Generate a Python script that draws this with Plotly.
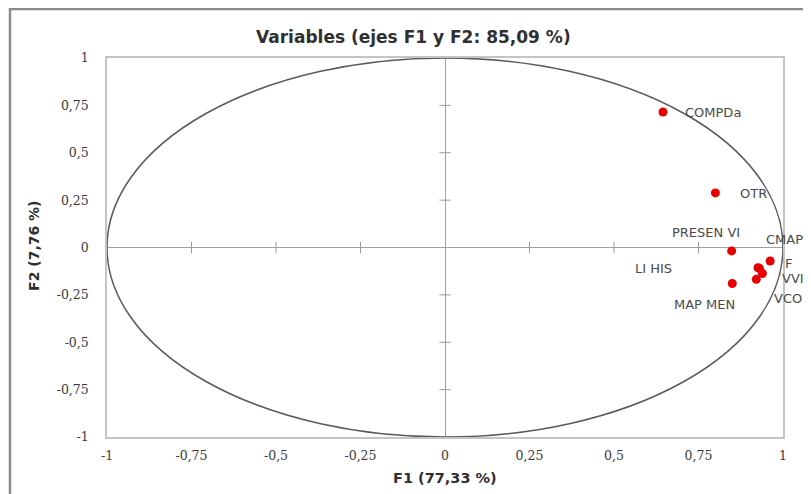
import plotly.graph_objects as go

# ---- data ----
variables = ["COMPDa", "OTR", "PRESEN VI", "CMAP", "LI HIS", "F", "VVI", "VCON", "MAP MEN"]
f1_values = [0.645, 0.800, 0.848, 0.962, 0.926, 0.930, 0.939, 0.921, 0.850]
f2_values = [0.715, 0.288, -0.018, -0.071, -0.107, -0.110, -0.137, -0.168, -0.190]

# where each label sits (data units, left edge of text)
label_f1 = [0.704, 0.867, 0.666, 0.944, 0.556, 1.000, 0.990, 0.967, 0.672]
label_f2 = [0.710, 0.283, 0.077, 0.040, -0.113, -0.087, -0.166, -0.270, -0.303]

tick_values = [-1, -0.75, -0.5, -0.25, 0, 0.25, 0.5, 0.75, 1]
tick_labels = ["-1", "-0,75", "-0,5", "-0,25", "0", "0,25", "0,5", "0,75", "1"]

title_text = "Variables (ejes F1 y F2: 85,09 %)"
x_title = "F1 (77,33 %)"
y_title = "F2 (7,76 %)"

fig = go.Figure()

# tick crosses on the zero axes
cross_vals = [v for v in tick_values if v != 0]
fig.add_trace(go.Scatter(
    x=cross_vals, y=[0] * len(cross_vals), mode="markers",
    marker=dict(symbol="line-ns", size=8, line=dict(width=1, color="#9a9a9a")),
    hoverinfo="skip", showlegend=False, cliponaxis=False))
fig.add_trace(go.Scatter(
    x=[0] * len(cross_vals), y=cross_vals, mode="markers",
    marker=dict(symbol="line-ew", size=8, line=dict(width=1, color="#9a9a9a")),
    hoverinfo="skip", showlegend=False, cliponaxis=False))

# variable points
fig.add_trace(go.Scatter(
    x=f1_values, y=f2_values, mode="markers", text=variables,
    marker=dict(color="rgb(232,0,0)", size=9, line=dict(width=0)),
    showlegend=False))

# correlation circle
fig.add_shape(type="circle", xref="x", yref="y", x0=-1, x1=1, y0=-1, y1=1,
              line=dict(color="#5a5a5a", width=1.5), layer="above")

# outer chart border (extends past the picture on right/bottom)
fig.add_shape(type="rect", xref="paper", yref="paper",
              x0=-0.1435, x1=1.08, y0=-0.18, y1=1.129,
              line=dict(color="#8a8a8a", width=2.5), layer="below")

annotations = []
for name, lx, ly in zip(variables, label_f1, label_f2):
    annotations.append(dict(
        x=lx, y=ly, xref="x", yref="y", text=name, showarrow=False,
        xanchor="left", yanchor="middle",
        font=dict(family="DejaVu Sans", size=13, color="#4a4a4a")))

annotations.append(dict(
    x=0.454, y=1.055, xref="paper", yref="paper", text=title_text,
    showarrow=False, xanchor="center", yanchor="middle",
    font=dict(family="DejaVu Sans", size=17, color="#303030", weight="bold")))
annotations.append(dict(
    x=0.5, y=-0.108, xref="paper", yref="paper", text=x_title,
    showarrow=False, xanchor="center", yanchor="middle",
    font=dict(family="DejaVu Sans", size=14.5, color="#303030", weight="bold")))
annotations.append(dict(
    x=-0.109, y=0.505, xref="paper", yref="paper", text=y_title,
    showarrow=False, xanchor="center", yanchor="middle", textangle=-90,
    font=dict(family="DejaVu Sans", size=14, color="#303030", weight="bold")))

fig.update_layout(
    width=803, height=486, autosize=False,
    margin=dict(l=99, r=28, t=50, b=57),
    paper_bgcolor="white", plot_bgcolor="white",
    annotations=annotations,
    xaxis=dict(range=[-1, 1], tickvals=tick_values, ticktext=tick_labels,
               showgrid=False, zeroline=True, zerolinecolor="#a0a0a0", zerolinewidth=1,
               showline=True, linecolor="#c4c4c4", linewidth=1.5, mirror=True,
               ticks="", ticklabelstandoff=6,
               tickfont=dict(family="DejaVu Serif", size=12.5, color="#3a3a3a"),
               fixedrange=True),
    yaxis=dict(range=[-1, 1], tickvals=tick_values, ticktext=tick_labels,
               showgrid=False, zeroline=True, zerolinecolor="#a0a0a0", zerolinewidth=1,
               showline=True, linecolor="#c4c4c4", linewidth=1.5, mirror=True,
               ticks="", ticklabelstandoff=14,
               tickfont=dict(family="DejaVu Serif", size=12.5, color="#3a3a3a"),
               fixedrange=True),
)

fig.write_html("out.html")
